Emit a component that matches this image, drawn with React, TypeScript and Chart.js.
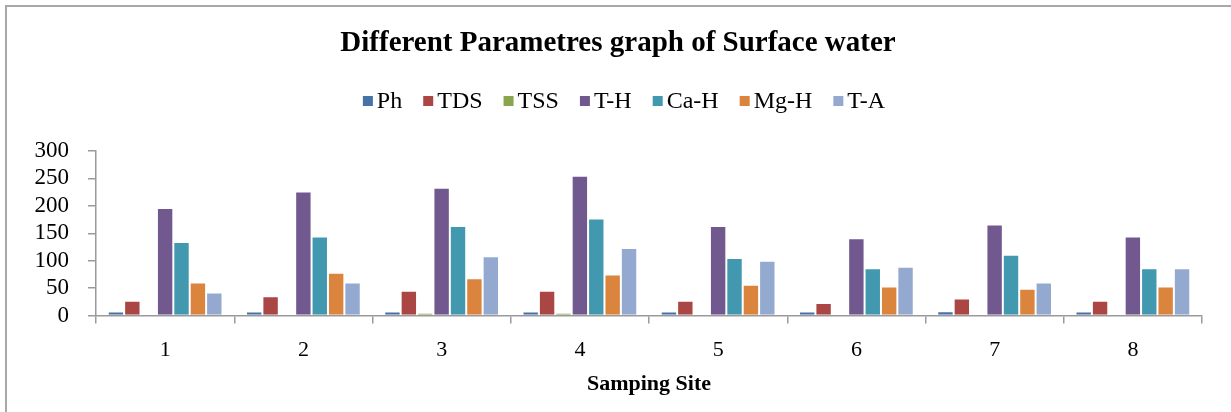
import React, { useEffect, useRef } from 'react';
import { Chart, registerables } from 'chart.js';

Chart.register(...registerables);

const TITLE = 'Different Parametres graph of Surface water';
const X_TITLE = 'Samping Site';
const CATEGORIES = ['1', '2', '3', '4', '5', '6', '7', '8'];
const SERIES_NAMES = ['Ph', 'TDS', 'TSS', 'T-H', 'Ca-H', 'Mg-H', 'T-A'];

const PH = [7.2, 7.4, 7.1, 7.5, 7.3, 7.2, 7.6, 7.4];
const TDS = [27, 35, 45, 45, 27, 23, 31, 27];
const TSS = [0, 0, 5, 5, 0, 0, 0, 0];
const TH = [196, 226, 233, 255, 163, 141, 166, 144];
const CAH = [134, 144, 163, 177, 105, 86, 111, 86];
const MGH = [60, 78, 68, 75, 56, 53, 49, 53];
const TA = [42, 60, 108, 123, 100, 89, 60, 86];

const SERIES_VALUES = [PH, TDS, TSS, TH, CAH, MGH, TA];
const COLORS = ['#4572A7', '#AA4643', '#89A54E', '#71588F', '#4198AF', '#DB843D', '#93A9CF'];

const Y_MIN = 0;
const Y_MAX = 300;
const Y_STEP = 50;

const FONT = '"Liberation Serif", "Times New Roman", serif';
const AXIS_COLOR = '#9a9a9a';

const decorPlugin = {
  id: 'decor',
  beforeDraw(chart: any) {
    const ctx = chart.ctx;
    ctx.save();
    ctx.fillStyle = '#ffffff';
    ctx.fillRect(0, 0, chart.width, chart.height);
    ctx.strokeStyle = '#a8a8a8';
    ctx.lineWidth = 2;
    ctx.strokeRect(6, 6, chart.width + 40, chart.height + 40);
    ctx.restore();
  },
  afterDraw(chart: any) {
    const ctx = chart.ctx;
    ctx.save();
    const cx = 618;
    ctx.fillStyle = '#000';
    ctx.textAlign = 'center';
    ctx.textBaseline = 'middle';
    ctx.font = `bold 29px ${FONT}`;
    ctx.fillText(TITLE, cx, 44);

    ctx.font = `24px ${FONT}`;
    const box = 10;
    const gapBT = 4;
    const gapItem = 21;
    const datasets = chart.data.datasets;
    const widths = datasets.map((d: any) => ctx.measureText(d.label).width);
    const total =
      widths.reduce((a: number, w: number) => a + box + gapBT + w, 0) + gapItem * (datasets.length - 1);
    let x = cx + 6 - total / 2;
    const ly = 101;
    ctx.textAlign = 'left';
    datasets.forEach((d: any, i: number) => {
      ctx.fillStyle = d.backgroundColor;
      ctx.fillRect(x, ly - box / 2, box, box);
      ctx.fillStyle = '#000';
      ctx.fillText(d.label, x + box + gapBT, ly + 1);
      x += box + gapBT + widths[i] + gapItem;
    });
    ctx.restore();
  },
};

export default function App() {
  const ref = useRef<HTMLCanvasElement | null>(null);

  useEffect(() => {
    if (!ref.current) return;
    const chart = new Chart(ref.current, {
      type: 'bar',
      data: {
        labels: CATEGORIES,
        datasets: SERIES_NAMES.map((name, i) => ({
          label: name,
          data: SERIES_VALUES[i],
          backgroundColor: COLORS[i],
          borderColor: 'rgba(255,255,255,0.55)',
          borderWidth: 1,
          categoryPercentage: 0.83,
          barPercentage: 1,
        })),
      },
      options: {
        animation: false,
        responsive: false,
        devicePixelRatio: 1,
        layout: { padding: { top: 151, right: 29, bottom: 0, left: 0 } },
        plugins: {
          legend: { display: false },
          title: { display: false },
          tooltip: { enabled: false },
        },
        scales: {
          x: {
            grid: {
              display: true,
              drawOnChartArea: false,
              offset: true,
              tickLength: 8,
              color: AXIS_COLOR,
              lineWidth: 1.5,
            },
            border: { color: AXIS_COLOR, width: 1.5 },
            ticks: { font: { family: FONT, size: 22 }, color: '#000', padding: 14 },
            title: {
              display: true,
              text: X_TITLE,
              color: '#000',
              font: { family: FONT, size: 22, weight: 'bold' },
              padding: { top: 0, bottom: 14 },
            },
            afterFit: (s: any) => {
              s.height = 96.5;
            },
          },
          y: {
            min: Y_MIN,
            max: Y_MAX,
            ticks: {
              stepSize: Y_STEP,
              autoSkip: false,
              font: { family: FONT, size: 23 },
              color: '#000',
              padding: 19,
            },
            grid: {
              display: true,
              drawOnChartArea: false,
              tickLength: 8,
              color: AXIS_COLOR,
              lineWidth: 1.5,
            },
            border: { color: AXIS_COLOR, width: 1.5 },
            afterFit: (s: any) => {
              s.width = 96;
            },
          },
        },
      },
      plugins: [decorPlugin],
    });
    return () => chart.destroy();
  }, []);

  return (
    <div style={{ position: 'fixed', left: 0, top: 0, width: 1231, height: 412, background: '#fff' }}>
      <canvas ref={ref} width={1231} height={412} style={{ display: 'block', width: 1231, height: 412 }} />
    </div>
  );
}
